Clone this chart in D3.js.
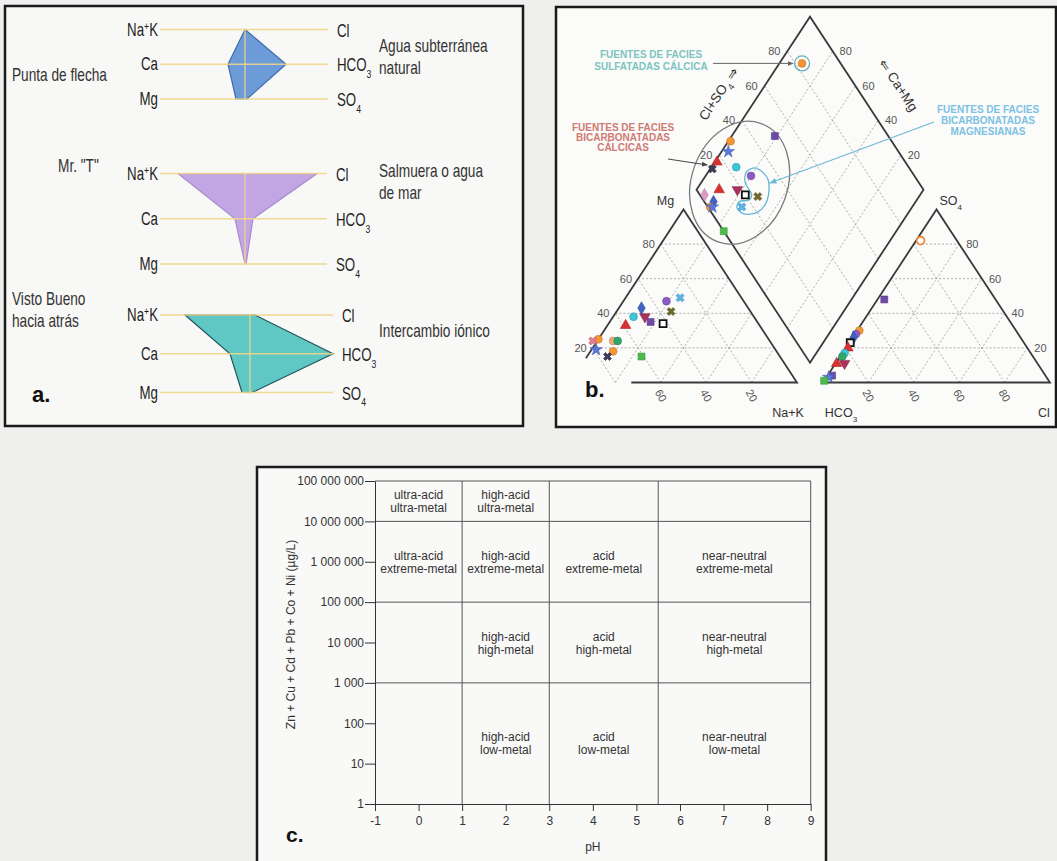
<!DOCTYPE html>
<html>
<head>
<meta charset="utf-8">
<title>Diagramas hidroquímicos</title>
<script src="https://d3js.org/d3.v7.min.js"></script>
<style>
  body { margin: 0; background: #efefed; }
  svg { display: block; }
</style>
</head>
<body>
<svg width="1057" height="861"></svg>
<script>
// ---------- data ----------
// a. Stiff diagrams (cations to the left, anions to the right)
const stiffNames = [["Punta de flecha"], ["Mr. \"T\""], ["Visto Bueno", "hacia atrás"]];
const stiffNotes = [["Agua subterránea", "natural"], ["Salmuera o agua", "de mar"], ["Intercambio iónico"]];
const cations = ["Na^+K", "Ca", "Mg"];
const anions = ["Cl", "HCO_3", "SO_4"];
const stiffCat = [[0, 17, 9], [67, 10, 0], [65, 20, 8]];
const stiffAn = [[0, 41, 2], [72, 8, 1], [5, 83, 2]];

// b. Piper diagram, [sample, %Ca, %Mg]
const cationPts = [
  ["A", 34, 47], ["B", 27, 49], ["C", 47, 43], ["D", 35, 41], ["E", 53, 38], ["F", 48, 38],
  ["G", 47, 35], ["H", 42, 34], ["I", 59, 33], ["J", 75, 25], ["K", 78, 24], ["Q", 69, 24],
  ["L", 67, 24], ["M", 79, 19], ["J", 72, 18], ["P", 76, 15], ["N", 61, 15]
];
// [sample, %Cl, %SO4]
const anionPts = [
  ["R", 2, 82], ["G", 3, 48], ["J", 1, 30], ["A", 0.5, 28], ["C", 0.5, 26], ["H", 0.5, 23],
  ["I", 1, 20], ["E", 1, 17], ["L", 1, 15], ["I", 0.5, 11], ["F", 4, 11], ["G", 2, 4],
  ["M", 1, 3], ["N", 0, 1]
];
// [sample, %(Cl+SO4), %(Ca+Mg)]
const diamondPts = [
  ["G", 50, 81], ["J", 29, 99], ["M", 25, 97], ["I", 17, 99], ["P", 13, 99], ["E", 24, 89],
  ["A", 28, 80], ["O", 2, 95], ["I", 10, 90], ["F", 18, 82], ["H", 20, 77], ["D", 25, 71],
  ["C", 4, 89], ["J", 1, 89], ["M", 2, 88], ["B", 15, 75], ["N", 0, 76], ["J", 83, 90]
];
const pctTicks = [20, 40, 60, 80];
// outline of the magnesian group, [%(Cl+SO4), %(Ca+Mg)]
const blueZone = [[32.7, 79.7], [34.4, 71.2], [28.2, 65.8], [20.9, 66.4], [14.3, 71.6], [12.6, 76.7],
  [15.4, 77.7], [19.8, 74.2], [22.8, 74.2], [23.2, 77.6], [23.7, 81.0], [27.3, 83.1]];

// c. pH vs dissolved metals
const phTicks = [-1, 0, 1, 2, 3, 4, 5, 6, 7, 8, 9];
const metalTicks = [1, 10, 100, 1e3, 1e4, 1e5, 1e6, 1e7, 1e8];
const phBreaks = [1, 3, 5.5, 9];
const metalBreaks = [1e3, 1e5, 1e7, 1e8];
const cells = [
  [-1, 1, 1e7, 1e8, "ultra-acid", "ultra-metal"],
  [1, 3, 1e7, 1e8, "high-acid", "ultra-metal"],
  [-1, 1, 1e5, 1e7, "ultra-acid", "extreme-metal"],
  [1, 3, 1e5, 1e7, "high-acid", "extreme-metal"],
  [3, 5.5, 1e5, 1e7, "acid", "extreme-metal"],
  [5.5, 9, 1e5, 1e7, "near-neutral", "extreme-metal"],
  [1, 3, 1e3, 1e5, "high-acid", "high-metal"],
  [3, 5.5, 1e3, 1e5, "acid", "high-metal"],
  [5.5, 9, 1e3, 1e5, "near-neutral", "high-metal"],
  [1, 3, 1, 1e3, "high-acid", "low-metal"],
  [3, 5.5, 1, 1e3, "acid", "low-metal"],
  [5.5, 9, 1, 1e3, "near-neutral", "low-metal"]
];

// ---------- helpers ----------
const svg = d3.select("svg");
const SANS = "'Liberation Sans', Arial, sans-serif";

// "_3" -> subscript, "^+" -> superscript
function richText(sel, str) {
  const re = /([_^])(.)|([^_^]+)/g;
  let m;
  while ((m = re.exec(str))) {
    if (m[3]) sel.append("tspan").text(m[3]);
    else sel.append("tspan").text(m[2]).attr("font-size", "65%")
      .attr("baseline-shift", m[1] === "_" ? "sub" : "super");
  }
  return sel;
}
// condensed text for the Stiff panel (no narrow font installed)
function narrow(sel, x, y, str, anchor, size) {
  return richText(sel.append("text").attr("transform", `translate(${x},${y}) scale(0.76,1)`)
    .attr("text-anchor", anchor || "start").attr("font-size", size), str);
}

svg.append("defs").append("marker")
  .attr("id", "arr").attr("viewBox", "0 0 10 10").attr("refX", 9).attr("refY", 5)
  .attr("markerWidth", 6).attr("markerHeight", 6).attr("orient", "auto")
  .append("path").attr("d", "M0,1 L10,5 L0,9 z").attr("fill", "context-stroke");

// panel frames
svg.append("rect").attr("x", 5).attr("y", 6).attr("width", 518).attr("height", 420)
  .attr("fill", "#f8f8f6").attr("stroke", "#1a1a1a").attr("stroke-width", 2.5);
svg.append("rect").attr("x", 556).attr("y", 7).attr("width", 500).attr("height", 420)
  .attr("fill", "#fbfbfa").attr("stroke", "#1a1a1a").attr("stroke-width", 2.5);
svg.append("rect").attr("x", 257).attr("y", 467).attr("width", 569).attr("height", 400)
  .attr("fill", "#f9f9f8").attr("stroke", "#1a1a1a").attr("stroke-width", 2.5);

// ---------- a. Stiff ----------
const stiffBox = [
  { rows: [29.5, 99], cx: 245, x0: 160, x1: 328, fill: "#6c9bd8", edge: "#3d6cae" },
  { rows: [173.5, 264], cx: 245, x0: 160, x1: 327, fill: "#c2a6e3", edge: "#a98bcf" },
  { rows: [315, 392.5], cx: 250, x0: 160, x1: 333, fill: "#5fc8c4", edge: "#23555a" }
];
const ga = svg.append("g").attr("font-family", SANS).attr("fill", "#1e1e1e");

stiffBox.forEach((b, i) => {
  const y = d3.scalePoint().domain([0, 1, 2]).range(b.rows);
  const x = d3.scaleLinear().domain([-100, 100]).range([b.cx - 100, b.cx + 100]);
  const poly = [];
  stiffCat[i].forEach((v, k) => poly.push([x(-v), y(k)]));
  stiffAn[i].slice().reverse().forEach((v, k) => poly.push([x(v), y(2 - k)]));
  ga.append("path").attr("d", d3.line()(poly) + "Z")
    .attr("fill", b.fill).attr("stroke", b.edge).attr("stroke-width", 1.2);

  [0, 1, 2].forEach(k => {
    ga.append("line").attr("x1", b.x0).attr("x2", b.x1).attr("y1", y(k)).attr("y2", y(k))
      .attr("stroke", "#f0d68a").attr("stroke-width", 1.6).attr("opacity", 0.9);
  });
  ga.append("line").attr("x1", b.cx).attr("x2", b.cx).attr("y1", y(0)).attr("y2", y(2))
    .attr("stroke", "#f0d68a").attr("stroke-width", 1.4).attr("opacity", 0.85);

  cations.forEach((c, k) => narrow(ga, b.x0 - 2, y(k) + 6, c, "end", 17.5));
  anions.forEach((c, k) => narrow(ga, b.x1 + 9, y(k) + 7, c, "start", 17.5));

  const nameY = i === 0 ? 81 : i === 1 ? 172 : 305;
  stiffNames[i].forEach((t, k) => narrow(ga, i === 1 ? 58 : 12, nameY + k * 22, t, "start", 18).attr("fill", "#333"));
  const noteY = i === 0 ? 52 : i === 1 ? 177 : 337;
  stiffNotes[i].forEach((t, k) => narrow(ga, 379, noteY + k * 22, t, "start", 18).attr("fill", "#333"));
});
svg.append("text").attr("x", 32).attr("y", 402).attr("font-family", SANS)
  .attr("font-weight", "bold").attr("font-size", 22).attr("fill", "#111").text("a.");

// ---------- b. Piper ----------
const TW = 227, TH = 173, GAP = 26;
const xs = d3.scaleLinear().domain([0, 1]).range([570, 570 + TW]);
const ys = d3.scaleLinear().domain([0, 1]).range([382.5, 382.5 - TH]);
const g = GAP / TW;
const triPt = (u0, a, b, c) => [xs(u0 + b + c / 2), ys(c)];
const diaPt = (p, q) => [xs(1 + g / 2 + (p - q) / 2), ys(g + p + q)];
const line = d3.line();
const gb = svg.append("g").attr("font-family", SANS);

// grid
const grid = gb.append("g").attr("stroke", "#9a9a9a").attr("stroke-width", 0.8)
  .attr("stroke-dasharray", "2,2").attr("fill", "none");
[0, 1 + g].forEach(u0 => {
  pctTicks.map(t => t / 100).forEach(k => {
    grid.append("path").attr("d", line([triPt(u0, 1 - k, 0, k), triPt(u0, 0, 1 - k, k)]));
    grid.append("path").attr("d", line([triPt(u0, k, 1 - k, 0), triPt(u0, k, 0, 1 - k)]));
    grid.append("path").attr("d", line([triPt(u0, 1 - k, k, 0), triPt(u0, 0, k, 1 - k)]));
  });
});
pctTicks.map(t => t / 100).forEach(k => {
  grid.append("path").attr("d", line([diaPt(k, 0), diaPt(k, 1)]));
  grid.append("path").attr("d", line([diaPt(0, k), diaPt(1, k)]));
});

// outlines
const edge = gb.append("g").attr("stroke", "#3a3a3a").attr("stroke-width", 1.8).attr("fill", "none");
edge.append("path").attr("d", line([triPt(0, 0.73, 0.27, 0), triPt(0, 0, 1, 0), triPt(0, 0, 0, 1), triPt(0, 0.86, 0, 0.14)]));
edge.append("path").attr("d", line([triPt(1 + g, 1, 0, 0), triPt(1 + g, 0, 1, 0), triPt(1 + g, 0, 0, 1)]) + "Z");
edge.append("path").attr("d", line([diaPt(0, 0), diaPt(1, 0), diaPt(1, 1), diaPt(0, 1)]) + "Z");

// tick labels
const tl = gb.append("g").attr("font-size", 11).attr("fill", "#555");
pctTicks.forEach(t => {
  const k = t / 100;
  let p = triPt(0, 1 - k, 0, k);
  tl.append("text").attr("x", p[0] - 6).attr("y", p[1] + 4).attr("text-anchor", "end").text(t);
  p = triPt(1 + g, 0, 1 - k, k);
  tl.append("text").attr("x", p[0] + 7).attr("y", p[1] + 4).text(t);
  p = triPt(1 + g, 1 - k, k, 0);
  tl.append("text").attr("transform", `translate(${p[0]},${p[1] + 13}) rotate(60)`)
    .attr("text-anchor", "middle").attr("dy", "0.35em").text(t);
  if (t <= 60) {
    p = triPt(0, k, 1 - k, 0);
    tl.append("text").attr("transform", `translate(${p[0]},${p[1] + 13}) rotate(60)`)
      .attr("text-anchor", "middle").attr("dy", "0.35em").text(t);
  }
  const pl = [xs(1 + g / 2 - 0.5 + k / 2), ys(1 + g + k)];
  tl.append("text").attr("x", pl[0] - 13).attr("y", pl[1] + 4).attr("text-anchor", "middle").text(t);
  const pr = [xs(1.5 + g / 2 - k / 2), ys(1 + g + k)];
  tl.append("text").attr("x", pr[0] + 13).attr("y", pr[1] + 4).attr("text-anchor", "middle").text(t);
});

// corner / axis labels
const cl = gb.append("g").attr("font-size", 12.5).attr("fill", "#333");
let c = triPt(0, 0, 0, 1);
cl.append("text").attr("x", c[0] - 18).attr("y", c[1] - 5).attr("text-anchor", "middle").text("Mg");
c = triPt(1 + g, 0, 0, 1);
richText(cl.append("text").attr("x", c[0] + 3).attr("y", c[1] - 5), "SO_4");
c = triPt(0, 0, 1, 0);
cl.append("text").attr("x", c[0] - 9).attr("y", c[1] + 34).attr("text-anchor", "middle").text("Na+K");
c = triPt(1 + g, 1, 0, 0);
richText(cl.append("text").attr("x", c[0] + 18).attr("y", c[1] + 34).attr("text-anchor", "middle"), "HCO_3");
c = triPt(1 + g, 0, 1, 0);
cl.append("text").attr("x", c[0] - 6).attr("y", c[1] + 34).attr("text-anchor", "middle").text("Cl");
const ang = Math.atan2(TH, TW / 2) * 180 / Math.PI;
c = [xs(1 + g / 2 - 0.5 + 0.53 / 2), ys(1 + g + 0.53)];
richText(cl.append("text").attr("transform", `translate(${c[0] - 34},${c[1] - 2}) rotate(${-ang})`)
  .attr("text-anchor", "middle").attr("font-size", 13.5), "Cl+SO_4 ⇒");
c = [xs(1.5 + g / 2 - 0.59 / 2), ys(1 + g + 0.59)];
cl.append("text").attr("transform", `translate(${c[0] + 38},${c[1]}) rotate(${ang})`)
  .attr("text-anchor", "middle").attr("font-size", 13.5).text("⇐ Ca+Mg");

// annotations
const ann = gb.append("g").attr("fill", "none");
c = diaPt(0.21, 0.83);
ann.append("ellipse").attr("cx", c[0]).attr("cy", c[1]).attr("rx", 48).attr("ry", 63)
  .attr("transform", `rotate(20 ${c[0]} ${c[1]})`).attr("stroke", "#7a7a7a").attr("stroke-width", 1.3);
ann.append("path").attr("d", d3.line().curve(d3.curveCardinalClosed)(blueZone.map(d => diaPt(d[0] / 100, d[1] / 100))))
  .attr("stroke", "#5fb6d6").attr("stroke-width", 1.3);
c = diaPt(0.83, 0.90);
ann.append("circle").attr("cx", c[0]).attr("cy", c[1]).attr("r", 7.5).attr("stroke", "#6aaeb8").attr("stroke-width", 1.3);
ann.append("line").attr("x1", 713).attr("y1", c[1]).attr("x2", c[0] - 9).attr("y2", c[1])
  .attr("stroke", "#666").attr("stroke-width", 1).attr("marker-end", "url(#arr)");
c = diaPt(0.0, 0.87);
ann.append("line").attr("x1", 668).attr("y1", 159).attr("x2", c[0] - 4).attr("y2", 165)
  .attr("stroke", "#444").attr("stroke-width", 1).attr("marker-end", "url(#arr)");
c = diaPt(0.343, 0.696);
ann.append("line").attr("x1", 934).attr("y1", 122).attr("x2", c[0]).attr("y2", c[1])
  .attr("stroke", "#6cb8d8").attr("stroke-width", 1.2).attr("marker-end", "url(#arr)");

const lab = gb.append("g").attr("font-size", 10).attr("text-anchor", "middle").attr("font-weight", "bold");
["FUENTES DE FACIES", "SULFATADAS CÁLCICA"].forEach((t, k) =>
  lab.append("text").attr("x", 651).attr("y", 58 + k * 12).attr("fill", "#7cc4c0").text(t));
["FUENTES DE FACIES", "BICARBONATADAS", "CÁLCICAS"].forEach((t, k) =>
  lab.append("text").attr("x", 623).attr("y", 131 + k * 10).attr("fill", "#cf7a74").text(t));
["FUENTES DE FACIES", "BICARBONATADAS", "MAGNESIANAS"].forEach((t, k) =>
  lab.append("text").attr("x", 988).attr("y", 113 + k * 11).attr("fill", "#7cc2e4").text(t));

// points
const markStyle = {
  A: ["circle", "#8a5cc6"], B: ["x", "#5ab4e6"], C: ["diamond", "#3f63c4"], D: ["x", "#6f6a2c"],
  E: ["circle", "#3cc6d6"], F: ["tridown", "#a8325a"], G: ["square", "#7048a8"], H: ["open", "#111"],
  I: ["triangle", "#d83232"], J: ["circle", "#f59432"], K: ["x", "#e87a8a"], L: ["circle", "#2fa86a"],
  M: ["star", "#5a78d8"], N: ["square", "#4cbb4c"], O: ["diamond", "#dc9ac8"], P: ["x", "#3c3c5a"],
  Q: ["circle", "#f0a878"], R: ["ring", "#f08a3a"]
};
const symType = { circle: d3.symbolCircle, ring: d3.symbolCircle, x: d3.symbolCross, diamond: d3.symbolDiamond,
  tridown: d3.symbolTriangle, triangle: d3.symbolTriangle, square: d3.symbolSquare, open: d3.symbolSquare, star: d3.symbolStar };
const symRot = { x: 45, tridown: 180 };
const hollow = s => s === "open" || s === "ring";
function drawPts(data, pos) {
  gb.append("g").selectAll("path").data(data).join("path")
    .attr("transform", d => { const p = pos(d); const s = markStyle[d[0]][0]; return `translate(${p[0]},${p[1]}) rotate(${symRot[s] || 0})`; })
    .attr("d", d => d3.symbol().type(symType[markStyle[d[0]][0]]).size(markStyle[d[0]][0] === "x" ? 40 : 48)())
    .attr("fill", d => hollow(markStyle[d[0]][0]) ? "#fff" : markStyle[d[0]][1])
    .attr("stroke", d => hollow(markStyle[d[0]][0]) ? markStyle[d[0]][1] : d3.color(markStyle[d[0]][1]).darker(0.6))
    .attr("stroke-width", d => hollow(markStyle[d[0]][0]) ? 1.8 : 0.6);
}
drawPts(cationPts, d => triPt(0, d[1] / 100, 1 - (d[1] + d[2]) / 100, d[2] / 100));
drawPts(anionPts, d => triPt(1 + g, 1 - (d[1] + d[2]) / 100, d[1] / 100, d[2] / 100));
drawPts(diamondPts, d => diaPt(d[1] / 100, d[2] / 100));

svg.append("text").attr("x", 585).attr("y", 397).attr("font-family", SANS)
  .attr("font-weight", "bold").attr("font-size", 22).attr("fill", "#111").text("b.");

// ---------- c. pH vs metals ----------
const xC = d3.scaleLinear().domain([-1, 9]).range([375, 810.7]);
const yC = d3.scaleLog().domain([1, 1e8]).range([804, 481]);
const gc = svg.append("g").attr("font-family", SANS);
const fmt = d => d3.format(",")(d).replace(/,/g, " ");

const gridC = gc.append("g").attr("stroke", "#555").attr("stroke-width", 1);
phBreaks.forEach(v => gridC.append("line").attr("x1", xC(v)).attr("x2", xC(v)).attr("y1", yC(1e8)).attr("y2", yC(1)));
metalBreaks.forEach(v => gridC.append("line").attr("x1", xC(-1)).attr("x2", xC(9)).attr("y1", yC(v)).attr("y2", yC(v)));

gc.append("g").attr("transform", `translate(${xC(-1)},0)`)
  .call(d3.axisLeft(yC).tickValues(metalTicks).tickFormat(fmt).tickSize(10).tickSizeOuter(0).tickPadding(1))
  .call(a => a.selectAll("text").attr("font-size", 12).attr("fill", "#333").attr("font-family", SANS))
  .call(a => a.selectAll("line,path").attr("stroke", "#333"));
gc.append("g").attr("transform", `translate(0,${yC(1)})`)
  .call(d3.axisBottom(xC).tickValues(phTicks).tickFormat(d => String(d)).tickSize(7).tickSizeOuter(0).tickPadding(5))
  .call(a => a.selectAll("text").attr("font-size", 12).attr("fill", "#333").attr("font-family", SANS))
  .call(a => a.selectAll("line,path").attr("stroke", "#333"));

const cellG = gc.append("g").attr("font-size", 12).attr("fill", "#333").attr("text-anchor", "middle");
cells.forEach(d => {
  const cx = (xC(d[0]) + xC(d[1])) / 2;
  const cy = (yC(d[2]) + yC(d[3])) / 2;
  cellG.append("text").attr("x", cx).attr("y", cy - 2).text(d[4]);
  cellG.append("text").attr("x", cx).attr("y", cy + 11).text(d[5]);
});

gc.append("text").attr("transform", `translate(295,${(yC(1) + yC(1e8)) / 2 - 8}) rotate(-90)`)
  .attr("text-anchor", "middle").attr("font-size", 12).attr("fill", "#333")
  .text("Zn + Cu + Cd + Pb + Co + Ni (µg/L)");
gc.append("text").attr("x", (xC(-1) + xC(9)) / 2).attr("y", 851).attr("text-anchor", "middle")
  .attr("font-size", 12).attr("fill", "#333").text("pH");
svg.append("text").attr("x", 286).attr("y", 842).attr("font-family", SANS)
  .attr("font-weight", "bold").attr("font-size", 21).attr("fill", "#111").text("c.");
</script>
</body>
</html>
